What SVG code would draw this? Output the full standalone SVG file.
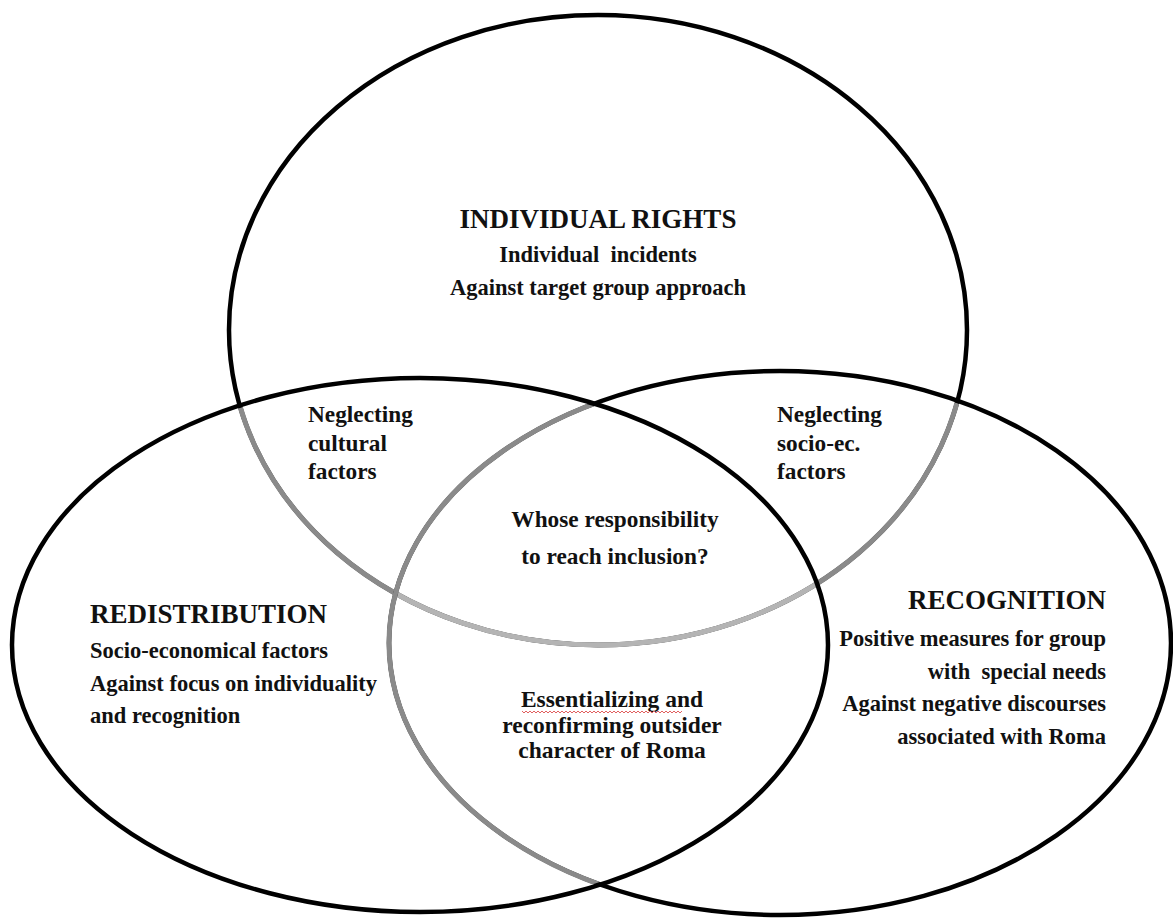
<svg xmlns="http://www.w3.org/2000/svg" width="1173" height="920" viewBox="0 0 1173 920">
<style>
.ring{fill:none;stroke:#000;stroke-width:4.5}
.grey{fill:none;stroke:#8a8a8a;stroke-width:5}
.light{fill:none;stroke:#b4b4b4;stroke-width:5}
text{font-family:"Liberation Serif","Times New Roman",serif;font-weight:bold;fill:#111}
.title{font-size:27px}
.body{font-size:22.5px}
.mid{font-size:23.3px}
.ess{font-size:23.5px}
</style>
<defs>
<clipPath id="inL"><ellipse cx="420" cy="645" rx="405.5" ry="264.5"/></clipPath>
<clipPath id="inR"><ellipse cx="780" cy="643" rx="388.5" ry="269.5"/></clipPath>
<clipPath id="inLR"><ellipse cx="420" cy="645" rx="405.5" ry="264.5"/><ellipse cx="780" cy="643" rx="388.5" ry="269.5"/></clipPath>
</defs>
<rect width="1173" height="920" fill="#fff"/>
<g id="individual-rights">
<ellipse class="ring" cx="598" cy="330" rx="369" ry="315"/>
<ellipse class="grey" cx="598" cy="330" rx="369" ry="315" clip-path="url(#inLR)"/>
<g clip-path="url(#inL)"><ellipse class="light" cx="598" cy="330" rx="369" ry="315" clip-path="url(#inR)"/></g>
</g>
<g id="redistribution">
<ellipse class="ring" cx="420" cy="645" rx="408" ry="267"/>
</g>
<g id="recognition">
<ellipse class="ring" cx="780" cy="643" rx="391" ry="272"/>
<ellipse class="grey" cx="780" cy="643" rx="391" ry="272" clip-path="url(#inL)"/>
</g>
<g id="connectors"></g>
<g id="label-individual-rights" text-anchor="middle">
<text class="title" x="598" y="228">INDIVIDUAL RIGHTS</text>
<text class="body" x="598" y="262">Individual&#160; incidents</text>
<text class="body" x="598" y="295">Against target group approach</text>
</g>
<g id="label-redistribution">
<text class="title" x="90" y="623">REDISTRIBUTION</text>
<text class="body" x="90" y="658">Socio-economical factors</text>
<text class="body" x="90" y="691">Against focus on individuality</text>
<text class="body" x="90" y="723">and recognition</text>
</g>
<g id="label-recognition" text-anchor="end">
<text class="title" x="1106" y="609">RECOGNITION</text>
<text class="body" x="1106" y="646">Positive measures for group</text>
<text class="body" x="1106" y="679">with&#160; special needs</text>
<text class="body" x="1106" y="711">Against negative discourses</text>
<text class="body" x="1106" y="744">associated with Roma</text>
</g>
<g id="overlap-rights-redistribution">
<text class="mid" x="308" y="422">Neglecting</text>
<text class="mid" x="308" y="451">cultural</text>
<text class="mid" x="308" y="479">factors</text>
</g>
<g id="overlap-rights-recognition">
<text class="mid" x="777" y="422">Neglecting</text>
<text class="mid" x="777" y="451">socio-ec.</text>
<text class="mid" x="777" y="479">factors</text>
</g>
<g id="overlap-all" text-anchor="middle">
<text class="mid" x="615" y="527">Whose responsibility</text>
<text class="mid" x="615" y="564">to reach inclusion?</text>
</g>
<g id="overlap-redistribution-recognition" text-anchor="middle">
<text class="ess" x="612" y="707">Essentializing and</text>
<path d="M522 711 l2 2 l2 -2 l2 2 l2 -2 l2 2 l2 -2 l2 2 l2 -2 l2 2 l2 -2 l2 2 l2 -2 l2 2 l2 -2 l2 2 l2 -2 l2 2 l2 -2 l2 2 l2 -2 l2 2 l2 -2 l2 2 l2 -2 l2 2 l2 -2 l2 2 l2 -2 l2 2 l2 -2 l2 2 l2 -2 l2 2 l2 -2 l2 2 l2 -2 l2 2 l2 -2 l2 2 l2 -2 l2 2 l2 -2 l2 2 l2 -2 l2 2 l2 -2 l2 2 l2 -2 l2 2 l2 -2 l2 2 l2 -2 l2 2 l2 -2 l2 2 l2 -2 l2 2 l2 -2 l2 2 l2 -2 l2 2 l2 -2 l2 2 l2 -2 l2 2 l2 -2 l2 2 l2 -2 l2 2 l2 -2 l2 2 l2 -2 l2 2 l2 -2 l2 2 l2 -2 l2 2 l2 -2 l2 2 l2 -2" fill="none" stroke="#e06060" stroke-width="1"/>
<text class="ess" x="612" y="733">reconfirming outsider</text>
<text class="ess" x="612" y="758">character of Roma</text>
</g>
</svg>
